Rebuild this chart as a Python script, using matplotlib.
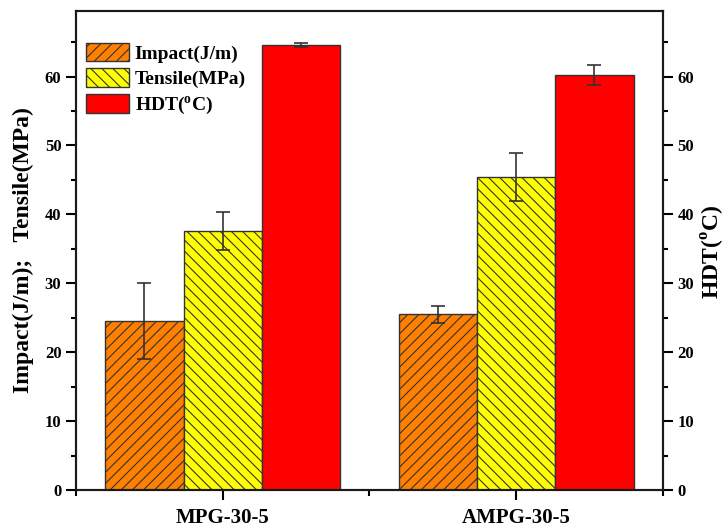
import matplotlib.pyplot as plt
import numpy as np
from matplotlib.ticker import MultipleLocator

plt.rcParams["font.family"] = ["Liberation Serif", "DejaVu Serif"]
plt.rcParams["font.weight"] = "bold"
plt.rcParams["mathtext.fontset"] = "custom"
plt.rcParams["mathtext.rm"] = "Liberation Serif:bold"
plt.rcParams["mathtext.bf"] = "Liberation Serif:bold"
plt.rcParams["hatch.linewidth"] = 0.8

samples = ["MPG-30-5", "AMPG-30-5"]
impact = [24.5, 25.5]
impact_err = [5.5, 1.2]
tensile = [37.6, 45.4]
tensile_err = [2.8, 3.5]
hdt = [64.6, 60.2]
hdt_err = [0.3, 1.5]

fig = plt.figure(figsize=(7.26, 5.31), dpi=100)
ax = fig.add_axes([0.1047, 0.0772, 0.8083, 0.902])

x = np.arange(len(samples))
w = 0.267
err_kw = dict(ecolor="#333333", elinewidth=1.2, capsize=5, capthick=1.2)

ax.bar(x - w, impact, w, yerr=impact_err, color="#FF8000", edgecolor="#333333",
       hatch="///", linewidth=1.0, label="Impact(J/m)", error_kw=err_kw)
ax.bar(x, tensile, w, yerr=tensile_err, color="#FFFF00", edgecolor="#333333",
       hatch="\\\\\\", linewidth=1.0, label="Tensile(MPa)", error_kw=err_kw)
ax.bar(x + w, hdt, w, yerr=hdt_err, color="#FF0000", edgecolor="#333333",
       linewidth=1.0, label="HDT($^{\\rm o}$C)", error_kw=err_kw)

ax.set_xlim(-0.5, 1.5)
ax.set_ylim(0, 69.5)
ax.set_xticks(x)
ax.set_xticklabels(samples, fontsize=15, fontweight="bold")
ax.xaxis.set_minor_locator(MultipleLocator(0.5))
ax.yaxis.set_major_locator(MultipleLocator(10))
ax.yaxis.set_minor_locator(MultipleLocator(5))
ax.tick_params(axis="y", which="major", direction="out", length=7, width=1.5, labelsize=12)
ax.tick_params(axis="y", which="minor", direction="out", length=3.5, width=1.5)
ax.tick_params(axis="x", which="major", direction="out", length=7, width=1.5, pad=6)
ax.tick_params(axis="x", which="minor", direction="out", length=4, width=1.5)
ax.set_ylabel("Impact(J/m);   Tensile(MPa)", fontsize=17, fontweight="bold", labelpad=8)

ax2 = ax.twinx()
ax2.set_ylim(0, 69.5)
ax2.yaxis.set_major_locator(MultipleLocator(10))
ax2.yaxis.set_minor_locator(MultipleLocator(5))
ax2.tick_params(axis="y", which="major", direction="out", length=7, width=1.5, labelsize=12)
ax2.tick_params(axis="y", which="minor", direction="out", length=3.5, width=1.5)
fig.text(713 / 726, 0.525, "HDT($^{\\rm o}$C)", fontsize=17, fontweight="bold",
         rotation=90, ha="center", va="center")

for a in (ax, ax2):
    for s in a.spines.values():
        s.set_linewidth(1.5)
        s.set_color("#1a1a1a")
    for lab in a.get_yticklabels():
        lab.set_fontweight("bold")

ax.legend(loc="upper left", bbox_to_anchor=(0.004, 0.95), frameon=False,
          handlelength=2.2, handleheight=1.08, borderaxespad=0.0,
          labelspacing=0.3, handletextpad=0.3,
          prop={"weight": "bold", "size": 14})

fig.savefig("out.png", dpi=100)
